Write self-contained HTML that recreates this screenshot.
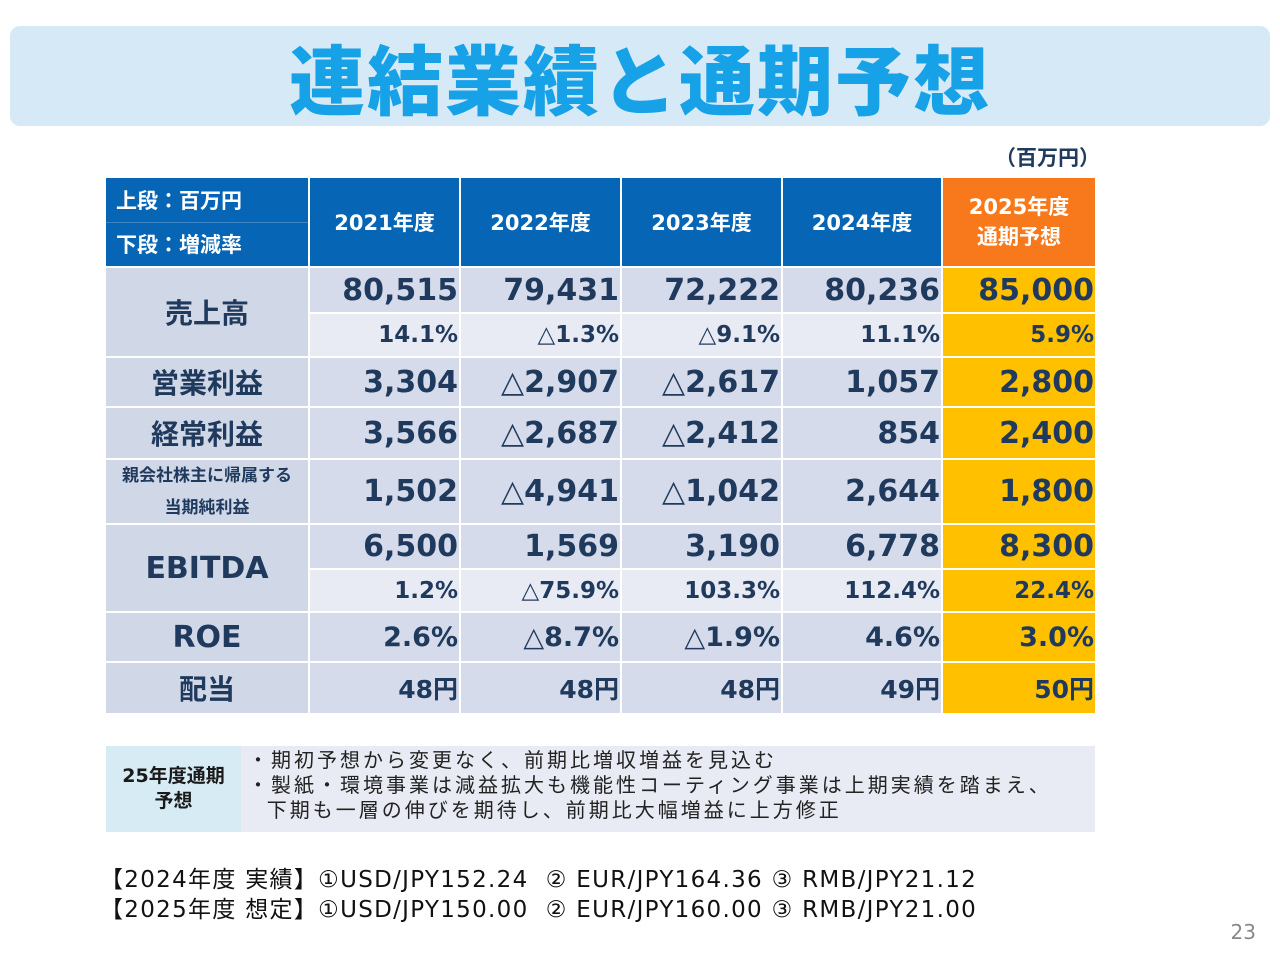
<!DOCTYPE html>
<html><head><meta charset="utf-8">
<style>
body{margin:0;width:1280px;height:960px;background:#fff;position:relative;overflow:hidden;font-family:"DejaVu Sans","Noto Sans CJK JP",sans-serif;color:#1f3a5c}
.banner{position:absolute;left:10px;top:26px;width:1260px;height:100px;background:#d5eaf6;border-radius:10px}
.title{position:absolute;left:0;width:1280px;top:28px;text-align:center;font-size:76px;font-weight:900;color:#17a2e8;letter-spacing:2px;line-height:96px;font-family:"Noto Sans CJK JP",sans-serif}
.unit{position:absolute;left:995px;top:142px;font-size:21px;font-weight:bold;color:#1f3a5c}
.grid{position:absolute;left:106px;top:178px;display:grid;grid-template-columns:202px 149px 159px 159px 158px 152px;grid-template-rows:88px 44px 42px 48px 50px 63px 43px 41px 48px 50px;gap:2px}
.grid>div{display:flex;align-items:center;justify-content:flex-end;font-weight:bold;box-sizing:border-box}
.h{background:#0765b5;color:#fff;font-size:21px;justify-content:center!important}
.ho{background:#f7791c;color:#fff;font-size:21px;justify-content:center!important;text-align:center;line-height:30px}
.lab{background:#d0d7e7;font-size:28px;justify-content:center!important}
.v{background:#d5dbea;font-size:30px;padding-right:1px}
.s{background:#e8ebf3;font-size:23px;padding-right:1px}
.y{background:#ffc000;font-size:30px;padding-right:1px}
.ys{background:#ffc000;font-size:23px;padding-right:1px}
.hl{background:#0765b5;color:#fff;font-size:21px;flex-direction:column;align-items:stretch!important;justify-content:stretch!important}
.hl span{flex:1;display:flex;align-items:center;padding-left:10px}
.note{position:absolute;left:106px;top:746px;width:989px;height:86px;background:#e8ebf3}
.notel{position:absolute;left:0;top:0;width:135px;height:86px;background:#d7ebf4;font-weight:bold;font-size:19px;text-align:center;display:flex;align-items:center;justify-content:center;line-height:25px;color:#1a1a1a}
.noter{position:absolute;left:142px;top:2px;font-size:20px;letter-spacing:3px;line-height:25px;color:#222;white-space:nowrap}
.fx{position:absolute;left:100px;top:865px;font-size:23px;letter-spacing:1.3px;line-height:30px;color:#111;white-space:nowrap}
.pg{position:absolute;right:24px;top:920px;font-size:20px;color:#888}
</style></head><body>
<div class="banner"></div>
<div class="title">連結業績と通期予想</div>
<div class="unit">（百万円）</div>
<div class="grid">
<div class="hl"><span style="border-bottom:1px solid #3d86c6">上段：百万円</span><span>下段：増減率</span></div>
<div class="h">2021年度</div>
<div class="h">2022年度</div>
<div class="h">2023年度</div>
<div class="h">2024年度</div>
<div class="ho">2025年度<br>通期予想</div>

<div class="lab" style="grid-row:span 2">売上高</div>
<div class="v">80,515</div><div class="v">79,431</div><div class="v">72,222</div><div class="v">80,236</div><div class="y">85,000</div>
<div class="s">14.1%</div><div class="s">△1.3%</div><div class="s">△9.1%</div><div class="s">11.1%</div><div class="ys">5.9%</div>

<div class="lab">営業利益</div>
<div class="v">3,304</div><div class="v">△2,907</div><div class="v">△2,617</div><div class="v">1,057</div><div class="y">2,800</div>

<div class="lab">経常利益</div>
<div class="v">3,566</div><div class="v">△2,687</div><div class="v">△2,412</div><div class="v">854</div><div class="y">2,400</div>

<div class="lab" style="font-size:17px;flex-direction:column;line-height:32px"><span>親会社株主に帰属する</span><span>当期純利益</span></div>
<div class="v">1,502</div><div class="v">△4,941</div><div class="v">△1,042</div><div class="v">2,644</div><div class="y">1,800</div>

<div class="lab" style="grid-row:span 2;font-size:30px">EBITDA</div>
<div class="v">6,500</div><div class="v">1,569</div><div class="v">3,190</div><div class="v">6,778</div><div class="y">8,300</div>
<div class="s">1.2%</div><div class="s">△75.9%</div><div class="s">103.3%</div><div class="s">112.4%</div><div class="ys">22.4%</div>

<div class="lab" style="font-size:30px">ROE</div>
<div class="v" style="font-size:27px">2.6%</div><div class="v" style="font-size:27px">△8.7%</div><div class="v" style="font-size:27px">△1.9%</div><div class="v" style="font-size:27px">4.6%</div><div class="y" style="font-size:27px">3.0%</div>

<div class="lab">配当</div>
<div class="v" style="font-size:25px">48円</div><div class="v" style="font-size:25px">48円</div><div class="v" style="font-size:25px">48円</div><div class="v" style="font-size:25px">49円</div><div class="y" style="font-size:25px">50円</div>
</div>

<div class="note">
<div class="notel">25年度通期<br>予想</div>
<div class="noter">・期初予想から変更なく、前期比増収増益を見込む<br>・製紙・環境事業は減益拡大も機能性コーティング事業は上期実績を踏まえ、<br>&nbsp;&nbsp;下期も一層の伸びを期待し、前期比大幅増益に上方修正</div>
</div>
<div class="fx">【2024年度 実績】①USD/JPY152.24&nbsp; ② EUR/JPY164.36 ③ RMB/JPY21.12<br>【2025年度 想定】①USD/JPY150.00&nbsp; ② EUR/JPY160.00 ③ RMB/JPY21.00</div>
<div class="pg">23</div>
</body></html>
